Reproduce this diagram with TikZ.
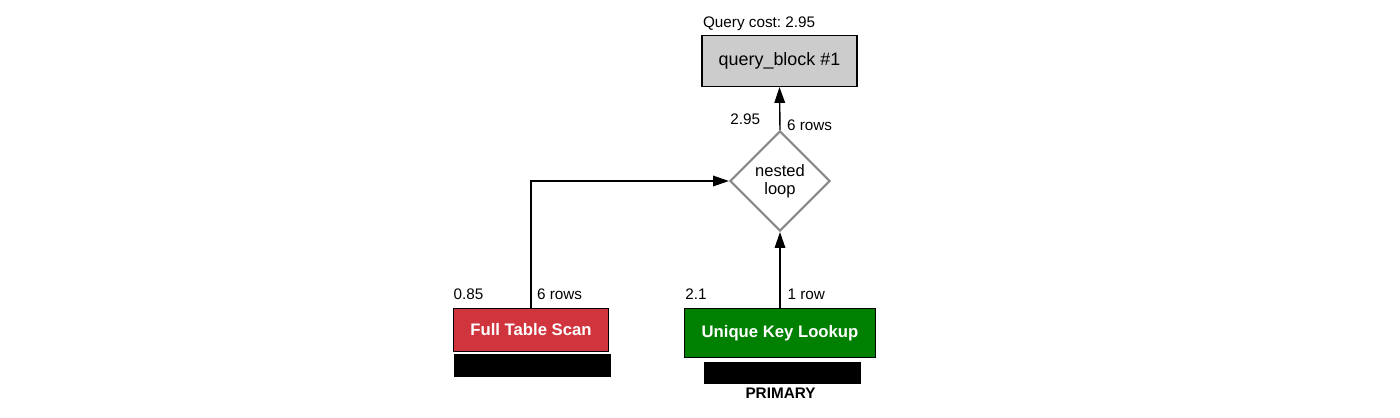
\documentclass[tikz,border=0pt]{standalone}
\usepackage{fontspec}
\setmainfont{Liberation Sans}
\usepackage{xcolor}
\usetikzlibrary{arrows.meta, shapes.geometric, positioning}
\frenchspacing

\definecolor{scanred}{RGB}{208,52,60}
\definecolor{lookupgreen}{RGB}{0,128,0}
\definecolor{blockgray}{RGB}{204,204,204}
\definecolor{loopgray}{RGB}{136,136,136}

\begin{document}
\begin{tikzpicture}[x=0.02cm, y=-0.02cm,
    lbl/.style={font=\fontsize{8.7}{10}\selectfont, inner sep=0pt, anchor=base west},
    opbox/.style={draw=black, line width=0.6pt, text=white, font=\fontsize{9.5}{11}\selectfont\bfseries, inner sep=0pt},
    redact/.style={fill=black, inner sep=0pt},
    conn/.style={line width=0.8pt, -{Triangle[length=9pt,width=6pt]}}]
    \useasboundingbox (0,0) rectangle (1400,418);
    \node (qb) at (779.5,61) [draw=black, line width=0.6pt, fill=blockgray, minimum width=3.1cm, minimum height=1.02cm, inner sep=0pt, font=\fontsize{10.2}{12}\selectfont] {query\_block \#1};
    \node (cost) at (702.7,28) [lbl] {Query cost: 2.95};
    \node (join) at (780,181) [diamond, draw=loopgray, line width=1.2pt, minimum width=2cm, minimum height=2cm, inner sep=0pt, align=center, font=\fontsize{9.4}{10.5}\selectfont] {nested\\loop};
    \node (scan) at (531,330) [opbox, fill=scanred, minimum width=3.11cm, minimum height=0.86cm] {Full Table Scan};
    \node (lookup) at (780,333) [opbox, fill=lookupgreen, minimum width=3.82cm, minimum height=0.99cm] {Unique Key Lookup};
    \node (bar1) at (532.5,365.3) [redact, minimum width=3.13cm, minimum height=0.45cm] {};
    \node (bar2) at (782.3,373.3) [redact, minimum width=3.13cm, minimum height=0.44cm] {};
    \node (key) at (780.5,393) [font=\fontsize{8.7}{10}\selectfont\bfseries, inner sep=0pt] {PRIMARY};
    % costs and rows
    \node (jcost) at (730,125) [lbl] {2.95};
    \node (jrows) at (786.7,131) [lbl] {6 rows};
    \node (scost) at (453.3,300) [lbl] {0.85};
    \node (srows) at (536.7,300) [lbl] {6 rows};
    \node (lcost) at (685,300) [lbl] {2.1};
    \node (lrows) at (787.3,300) [lbl] {1 row};
    \draw[conn] (join.north) -- (qb.south);
    \draw[conn] (scan.north) |- (join.west);
    \draw[conn] (lookup.north) -- (join.south);
\end{tikzpicture}
\end{document}
